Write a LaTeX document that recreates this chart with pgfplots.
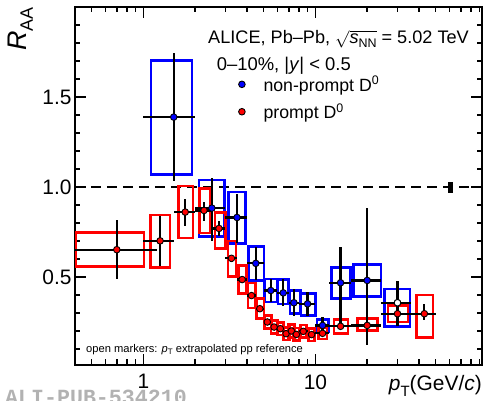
\documentclass[border=0pt]{standalone}
\usepackage{pgfplots}
\pgfplotsset{compat=1.18}
\usepackage{pgfplotstable}
\usepackage{fontspec}
\setmainfont{Liberation Sans}
\setmonofont{Liberation Mono}
\newcommand\fs[1]{\fontsize{#1}{#1}\selectfont}

% prompt D0: x, y, stat x-range, stat y-range, syst box x-range, syst box y-range
\pgfplotstableread{
x y xl xh yl yh bxl bxh byl byh
0.70 0.651 0.2 1.2 0.489 0.817 0.405 1.01 0.559 0.747
1.25 0.700 1.0 1.5 0.560 0.840 1.10 1.43 0.553 0.843
1.75 0.860 1.5 2.0 0.784 0.935 1.60 1.94 0.716 1.005
2.25 0.869 2.0 2.5 0.812 0.917 2.12 2.45 0.744 0.990
2.75 0.769 2.5 3.0 0.729 0.808 2.61 2.99 0.658 0.858
3.25 0.603 3.0 3.5 0.585 0.620 3.10 3.46 0.503 0.700
3.75 0.485 3.5 4.0 0.470 0.500 3.58 3.98 0.406 0.563
4.25 0.396 4.0 4.5 0.380 0.410 4.06 4.48 0.326 0.465
4.75 0.323 4.5 5.0 0.310 0.337 4.56 5.02 0.267 0.378
5.25 0.249 5.0 5.5 0.237 0.260 5.06 5.56 0.212 0.286
5.75 0.221 5.5 6.0 0.210 0.232 5.52 6.02 0.186 0.256
6.25 0.212 6.0 6.5 0.200 0.224 6.00 6.52 0.177 0.247
6.75 0.184 6.5 7.0 0.173 0.195 6.50 7.04 0.149 0.219
7.25 0.199 7.0 7.5 0.188 0.210 6.98 7.56 0.164 0.234
7.75 0.180 7.5 8.0 0.170 0.190 7.46 8.08 0.145 0.215
8.5 0.197 8.0 9.0 0.186 0.208 8.18 8.86 0.162 0.232
9.5 0.179 9.0 10.0 0.168 0.190 9.14 9.90 0.144 0.214
11.0 0.186 10.0 12.0 0.176 0.196 10.40 11.70 0.155 0.217
14.0 0.225 12.0 16.0 0.210 0.240 12.80 15.50 0.186 0.264
20.0 0.230 16.0 24.0 0.215 0.245 17.60 23.00 0.203 0.267
30.0 0.295 24.0 36.0 0.268 0.322 26.40 34.50 0.249 0.341
43.0 0.295 36.0 50.0 0.258 0.347 38.60 48.30 0.162 0.400
}\prompt

% non-prompt D0
\pgfplotstableread{
x y xl xh yl yh bxl bxh byl byh
1.5 1.388 1 2 1.033 1.747 1.108 1.92 1.068 1.703
2.5 0.882 2 3 0.700 1.048 2.10 2.96 0.723 1.039
3.5 0.830 3 4 0.686 0.960 3.13 3.92 0.686 0.972
4.5 0.575 4 5 0.480 0.668 4.09 5.01 0.480 0.668
5.5 0.424 5 6 0.360 0.489 5.07 6.04 0.360 0.489
6.5 0.411 6 7 0.336 0.489 6.06 7.00 0.350 0.485
7.5 0.356 7 8 0.280 0.433 7.10 8.17 0.295 0.424
9.0 0.350 8 10 0.280 0.415 8.25 10.0 0.286 0.406
11.0 0.230 10 12 0.184 0.276 10.2 11.95 0.193 0.264
14.0 0.467 12 16 0.230 0.664 12.4 16.0 0.378 0.553
20.0 0.480 16 24 0.123 0.885 16.7 24.0 0.390 0.568
30.0 0.356 24 36 0.225 0.476 25.3 35.4 0.225 0.433
}\nonprompt

\begin{document}
\begin{tikzpicture}
\begin{axis}[
  at={(0,0)}, anchor=south west,
  scale only axis, width=407bp, height=358bp,
  xmode=log, xmin=0.4, xmax=93, ymin=0.01, ymax=2,
  axis line style={line width=2bp},
  every tick/.style={black, line width=1.5bp},
  major tick length=11bp, minor tick length=5.5bp,
  tick align=inside,
  xtick={1,10}, xticklabels={1,10},
  minor xtick={0.4,0.5,0.6,0.7,0.8,0.9,2,3,4,5,6,7,8,9,20,30,40,50,60,70,80,90},
  ytick={0.5,1,1.5}, yticklabels={0.5,1.0,1.5},
  minor ytick={0.1,0.2,0.3,0.4,0.6,0.7,0.8,0.9,1.1,1.2,1.3,1.4,1.6,1.7,1.8,1.9},
  /pgf/number format/assume math mode=true,
  ticklabel style={font=\fs{21}},
  xticklabel style={yshift=-6bp},
  every axis x label/.style={at={(axis description cs:1,0)}, anchor=north east, yshift=-10bp, inner sep=0pt, font=\fs{21}},
  every axis y label/.style={at={(axis description cs:-0.103,1)}, rotate=90, anchor=south east, inner sep=0pt, font=\fs{27}},
  xlabel={\textit{p}\raisebox{-0.3em}{\fs{15}T}(GeV/\textit{c})},
  ylabel={\textit{R}\raisebox{-0.25em}{\fs{18}AA}},
  legend style={at={(rel axis cs:0.4015,0.813)}, anchor=north west, draw=none, fill=none,
    inner sep=0pt, row sep=7bp, font=\fs{17.8}},
  legend cell align=left,
]
% dashed line at unity
\addplot[black, line width=2.2bp, dash pattern=on 10bp off 6bp, forget plot] coordinates {(0.4,1) (93,1)};

% systematic boxes
\pgfplotsinvokeforeach{0,...,11}{
  \pgfplotstablegetelem{#1}{bxl}\of\nonprompt \let\ba\pgfplotsretval
  \pgfplotstablegetelem{#1}{bxh}\of\nonprompt \let\bb\pgfplotsretval
  \pgfplotstablegetelem{#1}{byl}\of\nonprompt \let\bc\pgfplotsretval
  \pgfplotstablegetelem{#1}{byh}\of\nonprompt \let\bd\pgfplotsretval
  \edef\cmd{\noexpand\draw[blue, line width=2.6bp] (axis cs:\ba,\bc) rectangle (axis cs:\bb,\bd);}
  \cmd
}
\pgfplotsinvokeforeach{0,...,21}{
  \pgfplotstablegetelem{#1}{bxl}\of\prompt \let\ba\pgfplotsretval
  \pgfplotstablegetelem{#1}{bxh}\of\prompt \let\bb\pgfplotsretval
  \pgfplotstablegetelem{#1}{byl}\of\prompt \let\bc\pgfplotsretval
  \pgfplotstablegetelem{#1}{byh}\of\prompt \let\bd\pgfplotsretval
  \edef\cmd{\noexpand\draw[red, line width=2.6bp] (axis cs:\ba,\bc) rectangle (axis cs:\bb,\bd);}
  \cmd
}

% normalisation uncertainty
\fill[black] (axis cs:58.6,0.968) rectangle (axis cs:62.8,1.025);

% data points with statistical error bars
\addplot[only marks, mark=*, mark size=3.3bp, mark options={fill=blue, draw=black, line width=0.9bp},
  error bars/.cd, x dir=both, y dir=both, x explicit, y explicit,
  error bar style={line width=2.2bp, draw=black}, error mark=none]
  table[x=x, y=y,
    x error minus expr=\thisrow{x}-\thisrow{xl}, x error plus expr=\thisrow{xh}-\thisrow{x},
    y error minus expr=\thisrow{y}-\thisrow{yl}, y error plus expr=\thisrow{yh}-\thisrow{y}] {\nonprompt};
\addplot[only marks, mark=*, mark size=3.3bp, mark options={fill=red, draw=black, line width=0.9bp},
  error bars/.cd, x dir=both, y dir=both, x explicit, y explicit,
  error bar style={line width=2.2bp, draw=black}, error mark=none]
  table[x=x, y=y,
    x error minus expr=\thisrow{x}-\thisrow{xl}, x error plus expr=\thisrow{xh}-\thisrow{x},
    y error minus expr=\thisrow{y}-\thisrow{yl}, y error plus expr=\thisrow{yh}-\thisrow{y}] {\prompt};
% open markers (extrapolated pp reference)
\addplot[only marks, mark=*, mark size=3.3bp, mark options={fill=white, draw=black, line width=0.9bp}]
  coordinates {(30,0.356)};

\addlegendimage{legend image code/.code={\fill[blue] (0bp,0bp) circle (2.4bp);}}
\addlegendentry{\hspace{16.3bp}non-prompt D\textsuperscript{0}}
\addlegendimage{legend image code/.code={\fill[red] (0bp,0bp) circle (2.4bp);}}
\addlegendentry{\hspace{16.3bp}prompt D\textsuperscript{0}}

\node[anchor=base west, inner sep=0pt, font=\fs{18.2}] at (rel axis cs:0.3268,0.8994)
  {ALICE, Pb–Pb, $\sqrt{\mbox{\textit{s}\raisebox{-0.25em}{\fs{12.5}NN}}}$ = 5.02 TeV};
\node[anchor=base west, inner sep=0pt, font=\fs{18.5}] at (rel axis cs:0.348,0.824)
  {0–10\%, |\textit{y}| < 0.5};
\node[anchor=base west, inner sep=0pt, font=\fs{11.2}] at (rel axis cs:0.027,0.0363)
  {open markers: \textit{p}\raisebox{-0.25em}{\fs{8}T} extrapolated pp reference};
\end{axis}
\node[anchor=north west, inner sep=0pt, text=black!30, font=\ttfamily\bfseries\fs{21.7}] at (-70bp,-25bp) {ALI-PUB-534210};
\pgfresetboundingbox
\path[use as bounding box] (-75bp,-36bp) rectangle (412bp,365bp);
\end{tikzpicture}
\end{document}
